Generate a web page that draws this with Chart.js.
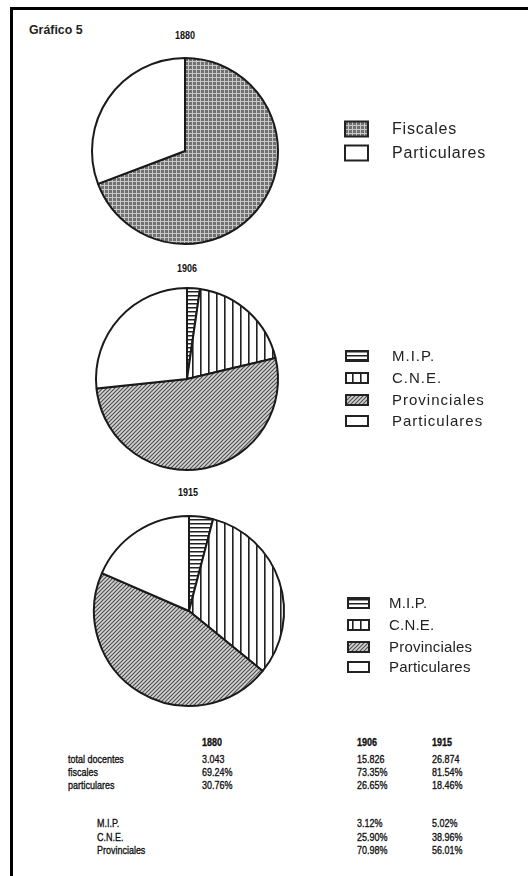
<!DOCTYPE html>
<html>
<head>
<meta charset="utf-8">
<script src="https://cdn.jsdelivr.net/npm/chart.js@4"></script>
<style>
  html, body { margin:0; padding:0; background:#fff; }
  body { width:528px; height:876px; position:relative; overflow:hidden; font-family:"Liberation Sans", Arial, sans-serif; color:#111; }
  .abs { position:absolute; white-space:nowrap; }
  .frame-top { position:absolute; left:10px; top:7px; width:518px; height:3px; background:#000; }
  .frame-left { position:absolute; left:10px; top:7px; width:3px; height:869px; background:#000; }
  .ttl { font-weight:bold; font-size:10px; transform:translate(-50%,-50%) scaleX(0.9); }
  .pie { position:absolute; left:0; width:528px; }
  .tbl { font-size:11.5px; line-height:13px; color:#111; -webkit-text-stroke:0.35px #111; transform-origin:0 50%; transform:translateY(-50%) scaleX(0.78); }
</style>
</head>
<body>
<div class="frame-top"></div>
<div class="frame-left"></div>
<div class="abs" style="left:29px;top:29px;transform-origin:0 50%;transform:translateY(-50%) scaleX(0.95);font-weight:bold;font-size:13px;color:#222;">Gráfico 5</div>
<div id="titles"></div>
<div class="pie" style="top:53px;height:196px;"><canvas id="pie1880"></canvas></div>
<div class="pie" style="top:283px;height:192px;"><canvas id="pie1906"></canvas></div>
<div class="pie" style="top:511px;height:200px;"><canvas id="pie1915"></canvas></div>
<div id="table"></div>
<script>
// chart data
const years = ['1880', '1906', '1915'];
const labels1880 = ['Fiscales', 'Particulares'];
const values1880 = [69.24, 30.76];
const labelsSplit = ['M.I.P.', 'C.N.E.', 'Provinciales', 'Particulares'];
const values1906 = [2.29, 19.00, 52.06, 26.65];
const values1915 = [4.09, 31.77, 45.67, 18.46];

// table under the pies
const rowLabels = ['total docentes', 'fiscales', 'particulares'];
const subLabels = ['M.I.P.', 'C.N.E.', 'Provinciales'];
const totalDocentes = ['3.043', '15.826', '26.874'];
const fiscalesPct = ['69.24%', '73.35%', '81.54%'];
const particularesPct = ['30.76%', '26.65%', '18.46%'];
const mipPct = ['', '3.12%', '5.02%'];
const cnePct = ['', '25.90%', '38.96%'];
const provPct = ['', '70.98%', '56.01%'];

function makePattern(kind) {
  var c = document.createElement('canvas');
  var ctx = c.getContext('2d');
  if (kind == 'grid') {
    c.width = 4; c.height = 4;
    ctx.fillStyle = '#707070'; ctx.fillRect(0, 0, 4, 4);
    ctx.fillStyle = '#c8c8c8'; ctx.fillRect(0, 0, 4, 1); ctx.fillRect(0, 0, 1, 4);
  } else if (kind == 'hlines') {
    c.width = 4; c.height = 4;
    ctx.fillStyle = '#fff'; ctx.fillRect(0, 0, 4, 4);
    ctx.fillStyle = '#222'; ctx.fillRect(0, 0, 4, 1.5);
  } else if (kind == 'vlines') {
    c.width = 8; c.height = 8;
    ctx.fillStyle = '#fff'; ctx.fillRect(0, 0, 8, 8);
    ctx.fillStyle = '#222'; ctx.fillRect(0, 0, 1.6, 8);
  } else if (kind == 'diag') {
    c.width = 4; c.height = 4;
    ctx.fillStyle = '#d4d4d4'; ctx.fillRect(0, 0, 4, 4);
    ctx.strokeStyle = '#505050'; ctx.lineWidth = 1.2;
    ctx.beginPath();
    ctx.moveTo(0, 4); ctx.lineTo(4, 0);
    ctx.moveTo(-1, 1); ctx.lineTo(1, -1);
    ctx.moveTo(3, 5); ctx.lineTo(5, 3);
    ctx.stroke();
  } else {
    return '#ffffff';
  }
  return ctx.createPattern(c, 'repeat');
}

var fills1880 = [makePattern('grid'), '#ffffff'];
var fillsSplit = [makePattern('hlines'), makePattern('vlines'), makePattern('diag'), '#ffffff'];

// legend drawn next to each pie
var sideLegend = {
  id: 'sideLegend',
  afterDraw: function(chart, args, opts) {
    var ctx = chart.ctx;
    var ds = chart.data.datasets[0];
    ctx.save();
    ctx.font = opts.fontSize + 'px "Liberation Sans", Arial, sans-serif';
    ctx.letterSpacing = opts.spacing + 'px';
    ctx.textBaseline = 'middle';
    chart.data.labels.forEach(function(lbl, i) {
      var y = opts.ys[i] - opts.top;
      ctx.fillStyle = ds.backgroundColor[i];
      ctx.fillRect(opts.x, y - opts.h / 2, opts.w, opts.h);
      ctx.lineWidth = 2;
      ctx.strokeStyle = '#222';
      ctx.strokeRect(opts.x, y - opts.h / 2, opts.w, opts.h);
      ctx.fillStyle = '#222';
      ctx.fillText(lbl, opts.tx, y + 1);
    });
    ctx.restore();
  }
};

function pie(id, labels, values, fills, geo, leg) {
  return new Chart(document.getElementById(id), {
    type: 'pie',
    data: {
      labels: labels,
      datasets: [{ data: values, backgroundColor: fills, borderColor: '#1a1a1a', borderWidth: 2 }]
    },
    options: {
      responsive: true,
      maintainAspectRatio: false,
      animation: false,
      events: [],
      layout: { padding: { left: geo.cx - geo.r, right: 528 - geo.cx - geo.r, top: geo.pad, bottom: geo.pad } },
      plugins: { legend: { display: false }, tooltip: { enabled: false }, sideLegend: leg }
    },
    plugins: [sideLegend]
  });
}

pie('pie1880', labels1880, values1880, fills1880, { cx: 185, r: 94, pad: 4 },
  { top: 53, x: 345, w: 23, h: 15, tx: 392, ys: [129, 153], fontSize: 16, spacing: 0.8 });
pie('pie1906', labelsSplit, values1906, fillsSplit, { cx: 187, r: 92, pad: 4 },
  { top: 283, x: 346, w: 22, h: 10, tx: 392, ys: [356, 378, 400, 421], fontSize: 15, spacing: 1 });
pie('pie1915', labelsSplit, values1915, fillsSplit, { cx: 189, r: 96, pad: 4 },
  { top: 511, x: 348, w: 21, h: 10, tx: 389, ys: [603, 625, 647, 667], fontSize: 15, spacing: 0.2 });

// year titles above the pies
var titlePos = [[185, 35], [187, 268], [188, 492]];
var titles = document.getElementById('titles');
years.forEach(function(y, i) {
  var d = document.createElement('div');
  d.className = 'abs ttl';
  d.style.left = titlePos[i][0] + 'px';
  d.style.top = titlePos[i][1] + 'px';
  d.textContent = y;
  titles.appendChild(d);
});

// table
var table = document.getElementById('table');
var colX = [202, 357, 432];
function cell(txt, x, y, bold) {
  var d = document.createElement('div');
  d.className = 'abs tbl';
  d.style.left = x + 'px';
  d.style.top = y + 'px';
  if (bold) d.style.fontWeight = 'bold';
  d.textContent = txt;
  table.appendChild(d);
}
years.forEach(function(y, i) { cell(y, colX[i], 742, true); });
var rows = [totalDocentes, fiscalesPct, particularesPct];
rowLabels.forEach(function(l, r) {
  cell(l, 68, 759 + r * 13);
  rows[r].forEach(function(v, i) { cell(v, colX[i], 759 + r * 13); });
});
var subs = [mipPct, cnePct, provPct];
subLabels.forEach(function(l, r) {
  cell(l, 97, 823 + r * 13.5);
  subs[r].forEach(function(v, i) { if (v) cell(v, colX[i], 823 + r * 13.5); });
});
</script>
</body>
</html>
